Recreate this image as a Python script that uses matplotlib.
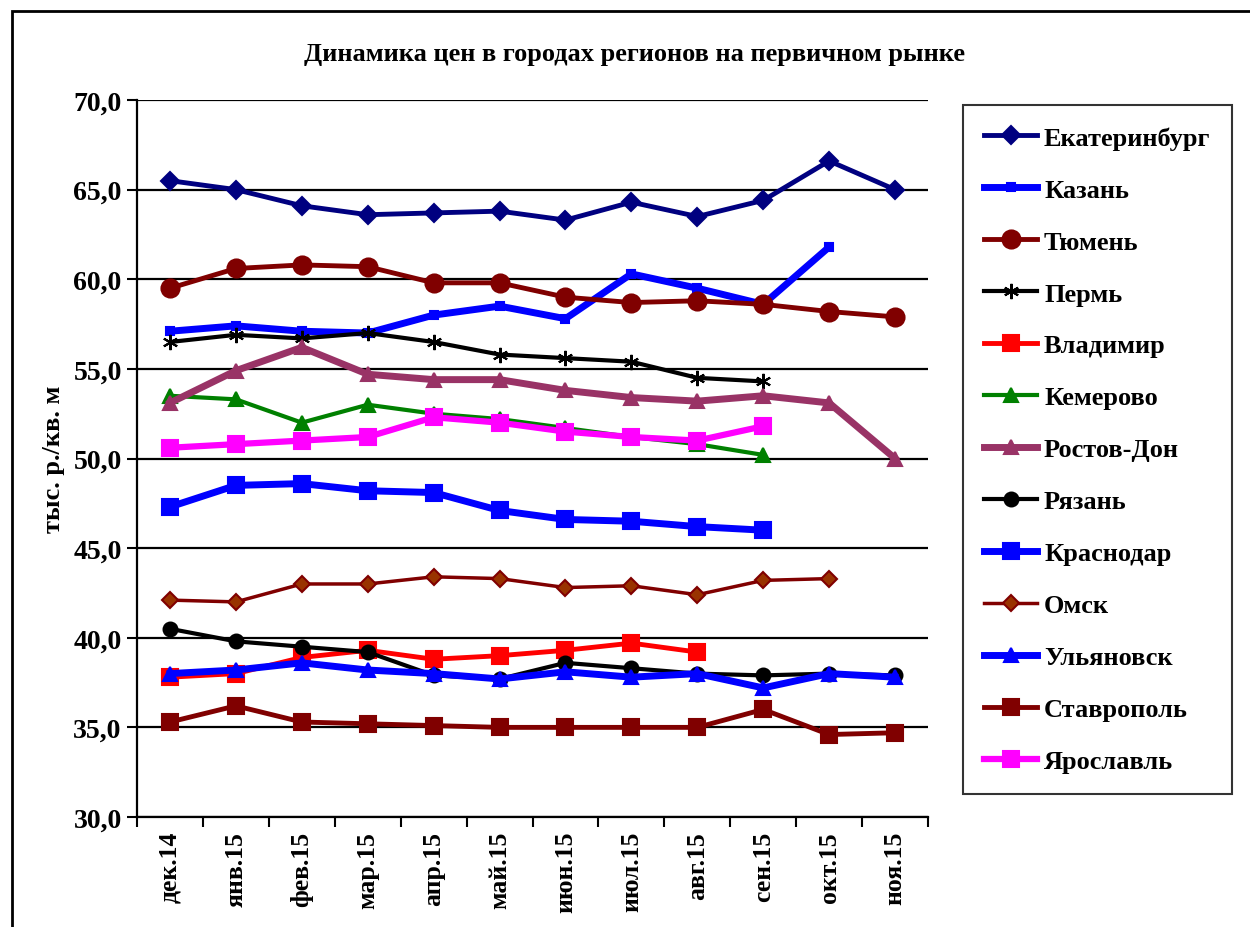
import numpy as np
import matplotlib.pyplot as plt
from matplotlib.patches import Rectangle
from matplotlib.ticker import FixedLocator, FuncFormatter

plt.rcParams['font.family'] = ['Liberation Serif', 'DejaVu Serif']
plt.rcParams['font.weight'] = 'bold'

nan = np.nan
months = ["дек.14", "янв.15", "фев.15", "мар.15", "апр.15", "май.15",
          "июн.15", "июл.15", "авг.15", "сен.15", "окт.15", "ноя.15"]

ekaterinburg = [65.5, 65.0, 64.1, 63.6, 63.7, 63.8, 63.3, 64.3, 63.5, 64.4, 66.6, 65.0]
kazan = [57.1, 57.4, 57.1, 57.0, 58.0, 58.5, 57.8, 60.3, 59.5, 58.6, 61.8, nan]
tyumen = [59.5, 60.6, 60.8, 60.7, 59.8, 59.8, 59.0, 58.7, 58.8, 58.6, 58.2, 57.9]
perm = [56.5, 56.9, 56.7, 57.0, 56.5, 55.8, 55.6, 55.4, 54.5, 54.3, nan, nan]
vladimir = [37.8, 38.0, 38.9, 39.3, 38.8, 39.0, 39.3, 39.7, 39.2, nan, nan, nan]
kemerovo = [53.5, 53.3, 52.0, 53.0, 52.5, 52.2, 51.7, 51.2, 50.8, 50.2, nan, nan]
rostov = [53.1, 54.9, 56.2, 54.7, 54.4, 54.4, 53.8, 53.4, 53.2, 53.5, 53.1, 50.0]
ryazan = [40.5, 39.8, 39.5, 39.2, 37.9, 37.7, 38.6, 38.3, 38.0, 37.9, 38.0, 37.9]
krasnodar = [47.3, 48.5, 48.6, 48.2, 48.1, 47.1, 46.6, 46.5, 46.2, 46.0, nan, nan]
omsk = [42.1, 42.0, 43.0, 43.0, 43.4, 43.3, 42.8, 42.9, 42.4, 43.2, 43.3, nan]
ulyanovsk = [38.0, 38.2, 38.6, 38.2, 38.0, 37.7, 38.1, 37.8, 38.0, 37.2, 38.0, 37.8]
stavropol = [35.3, 36.2, 35.3, 35.2, 35.1, 35.0, 35.0, 35.0, 35.0, 36.0, 34.6, 34.7]
yaroslavl = [50.6, 50.8, 51.0, 51.2, 52.3, 52.0, 51.5, 51.2, 51.0, 51.8, nan, nan]

# (label, data, line colour, marker, marker size, line width, marker face)
series = [
    ("Екатеринбург", ekaterinburg, "#000080", "D", 9, 3.5, "#000080"),
    ("Казань", kazan, "#0000FF", "s", 6, 5, "#0000FF"),
    ("Тюмень", tyumen, "#800000", "o", 13, 3.5, "#800000"),
    ("Пермь", perm, "#000000", (6, 2, 0), 11, 3, "#000000"),
    ("Владимир", vladimir, "#FF0000", "s", 11, 3.5, "#FF0000"),
    ("Кемерово", kemerovo, "#008000", "^", 10, 3, "#008000"),
    ("Ростов-Дон", rostov, "#993366", "^", 10, 5, "#993366"),
    ("Рязань", ryazan, "#000000", "o", 10, 3, "#000000"),
    ("Краснодар", krasnodar, "#0000FF", "s", 12, 5, "#0000FF"),
    ("Омск", omsk, "#800000", "D", 8, 2.5, "#993300"),
    ("Ульяновск", ulyanovsk, "#0000FF", "^", 10, 5, "#0000FF"),
    ("Ставрополь", stavropol, "#800000", "s", 11, 3.5, "#800000"),
    ("Ярославль", yaroslavl, "#FF00FF", "s", 11, 4.5, "#FF00FF"),
]

fig = plt.figure(figsize=(12.5, 9.28), dpi=100)
ax = fig.add_axes([137 / 1250, 1 - 818 / 928, 791 / 1250, 717 / 928])

x = np.arange(len(months))
for label, vals, col, mk, ms, lw, face in series:
    ax.plot(x, vals, color=col, lw=lw, marker=mk, markersize=ms,
            markerfacecolor=face, markeredgecolor=col, markeredgewidth=1.5,
            label=label)

ax.set_xlim(-0.5, len(months) - 0.5)
ax.set_ylim(30, 70)
ax.set_yticks(np.arange(30, 71, 5))
ax.yaxis.set_major_formatter(FuncFormatter(lambda v, p: f"{v:.1f}".replace(".", ",")))
ax.grid(axis="y", color="black", lw=1.6)
ax.set_axisbelow(True)

ax.set_xticks(x)
ax.set_xticklabels(months, rotation=90, fontsize=18.5, fontweight="bold")
ax.xaxis.set_minor_locator(FixedLocator(np.arange(-0.5, len(months), 1)))
ax.tick_params(axis="x", which="major", length=0, pad=10)
ax.tick_params(axis="x", which="minor", length=7, width=1.5, direction="out")
ax.tick_params(axis="y", length=7, width=1.5, direction="out", labelsize=20, pad=4)
for t in ax.get_yticklabels():
    t.set_fontweight("bold")

for s in ["top", "right"]:
    ax.spines[s].set_visible(False)
for s in ["left", "bottom"]:
    ax.spines[s].set_linewidth(1.6)

ax.set_ylabel("тыс. р./кв. м", fontsize=19, fontweight="bold", labelpad=6)

fig.text(635 / 1250, 1 - 55 / 928, "Динамика цен в городах регионов на первичном рынке",
         ha="center", va="center", fontsize=19, fontweight="bold")

leg = ax.legend(loc="upper left", bbox_to_anchor=(963 / 1250, 1 - 106 / 928),
                bbox_transform=fig.transFigure, borderaxespad=0, fancybox=False,
                frameon=True, edgecolor="black", handlelength=2.0,
                handletextpad=0.27, labelspacing=1.08, borderpad=0.8,
                prop={"family": "Liberation Serif", "weight": "bold", "size": 19})
leg.get_frame().set_linewidth(1.5)

fig.patches.append(Rectangle((12 / 1250, -0.1), 1.2, 1 - 12 / 928 + 0.1,
                             transform=fig.transFigure, fill=False,
                             edgecolor="black", lw=2))

fig.savefig("out.png", dpi=100)
